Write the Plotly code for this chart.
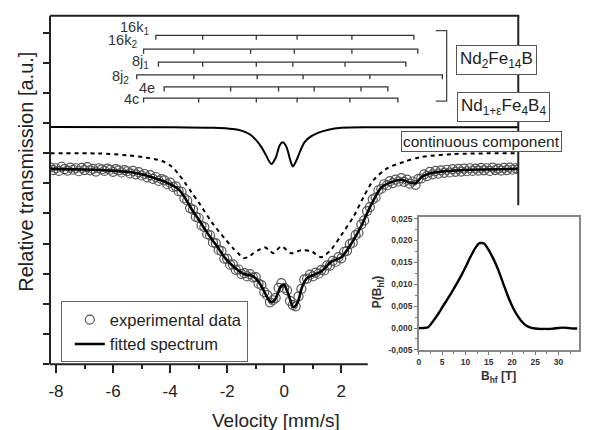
import plotly.graph_objects as go

W, H = 598, 430
FONT = "Liberation Sans, Arial, sans-serif"

# ---------------- data ----------------
VEL_START = -8.2
VEL_STEP = 0.1
exp_trans = [
    6.53, 6.44, 6.50, 6.41, 6.55, 6.47, 6.42, 6.52, 6.45, 6.50,
    6.40, 6.51, 6.44, 6.54, 6.43, 6.48, 6.39, 6.50, 6.46, 6.41,
    6.49, 6.45, 6.38, 6.47, 6.43, 6.36, 6.44, 6.40, 6.33, 6.41,
    6.30, 6.37, 6.26, 6.31, 6.20, 6.27, 6.15, 6.21, 6.08, 6.14,
    6.10, 5.97, 6.02, 5.88, 5.90, 5.74, 5.72, 5.50, 5.43, 5.18,
    5.13, 4.89, 4.85, 4.60, 4.55, 4.31, 4.27, 4.04, 4.01, 3.79,
    3.75, 3.50, 3.49, 3.30, 3.31, 3.13, 3.14, 2.99, 3.02, 2.91,
    2.99, 2.88, 2.89, 2.67, 2.62, 2.39, 2.29, 2.05, 2.12, 2.20,
    2.53, 2.69, 2.53, 2.45, 2.10, 1.96, 1.92, 2.25, 2.50, 2.81,
    2.84, 2.97, 2.91, 3.04, 3.00, 3.13, 3.11, 3.28, 3.27, 3.43,
    3.39, 3.55, 3.51, 3.73, 3.76, 3.98, 4.03, 4.28, 4.36, 4.64,
    4.77, 5.08, 5.21, 5.47, 5.53, 5.77, 5.82, 5.97, 5.93, 6.07,
    6.01, 6.12, 6.06, 6.17, 6.05, 6.12, 5.99, 6.06, 5.95, 6.15,
    6.16, 6.30, 6.24, 6.38, 6.30, 6.41, 6.32, 6.43, 6.35, 6.45,
    6.36, 6.47, 6.38, 6.48, 6.39, 6.49, 6.40, 6.50, 6.41, 6.49,
    6.42, 6.51, 6.43, 6.50, 6.41, 6.52, 6.44, 6.49, 6.42, 6.51,
    6.44, 6.52, 6.45, 6.50, 6.46]
exp_vel = [round(VEL_START + VEL_STEP * i, 2) for i in range(len(exp_trans))]

fit_vel = [-8.2, -7.0, -6.0, -5.3, -4.9, -4.6, -4.2, -3.9, -3.7, -3.5,
           -3.25, -3.0, -2.75, -2.5, -2.3, -2.1, -1.85, -1.6, -1.4, -1.15,
           -0.95, -0.75, -0.6, -0.45, -0.3, -0.12, 0.0, 0.15, 0.32, 0.47,
           0.62, 0.8, 1.0, 1.3, 1.65, 2.0, 2.35, 2.7, 3.05, 3.4,
           3.75, 4.1, 4.4, 4.6, 4.8, 5.15, 5.9, 7.0, 8.2]
fit_trans = [6.48, 6.46, 6.42, 6.36, 6.28, 6.19, 6.06, 5.92, 5.80, 5.55,
             5.15, 4.80, 4.43, 4.09, 3.84, 3.55, 3.30, 3.10, 2.98, 2.94,
             2.80, 2.50, 2.22, 2.05, 2.18, 2.58, 2.62, 2.30, 1.89, 2.05,
             2.55, 2.86, 2.95, 3.08, 3.40, 3.55, 4.00, 4.59, 5.30, 5.86,
             6.04, 6.12, 6.03, 6.00, 6.20, 6.34, 6.42, 6.46, 6.48]

dash_vel = [-8.2, -6.5, -5.5, -4.9, -4.3, -3.94, -3.7, -3.49, -3.25, -3.0,
            -2.55, -2.09, -1.8, -1.6, -1.43, -1.25, -1.08, -0.87, -0.69, -0.5,
            -0.38, -0.1, 0.24, 0.59, 0.94, 1.29, 1.64, 1.99, 2.44, 2.79,
            3.14, 3.63, 4.19, 4.78, 5.93, 8.2]
dash_trans = [7.00, 6.99, 6.93, 6.86, 6.75, 6.55, 6.30, 6.03, 5.70, 5.37,
              4.72, 4.17, 3.85, 3.66, 3.52, 3.56, 3.68, 3.80, 3.88, 3.76,
              3.68, 3.91, 3.68, 3.78, 3.75, 3.55, 3.80, 4.27, 4.92, 5.57,
              6.12, 6.51, 6.71, 6.87, 6.97, 7.00]

cont_vel = [-8.2, -4.0, -2.5, -1.8, -1.5, -1.2, -1.0, -0.8, -0.65, -0.45,
            -0.3, -0.15, -0.05, 0.08, 0.2, 0.3, 0.42, 0.55, 0.7, 0.85,
            1.2, 1.55, 2.0, 3.0, 8.2]
cont_trans = [7.87, 7.86, 7.84, 7.80, 7.75, 7.62, 7.45, 7.20, 6.95, 6.64,
              6.85, 7.28, 7.36, 7.20, 6.80, 6.56, 6.75, 7.05, 7.35, 7.50,
              7.68, 7.78, 7.84, 7.86, 7.86]

site_names = ["16k<sub>1</sub>", "16k<sub>2</sub>", "8j<sub>1</sub>",
              "8j<sub>2</sub>", "4e", "4c"]
site_lines = [
    [-4.50, -2.86, -0.98, 0.45, 2.37, 4.54],
    [-4.93, -3.17, -1.18, 0.35, 2.37, 4.68],
    [-4.41, -2.86, -0.98, 0.30, 2.13, 4.26],
    [-5.17, -3.17, -0.95, 0.66, 3.00, 5.54],
    [-4.21, -1.88, -0.20, 1.05, 2.69, 3.63],
    [-4.93, -3.00, -0.98, 0.45, 2.30, 3.98],
]

bhf = [0, 1, 2, 3, 4, 5, 6, 7, 8, 9, 10, 11, 12, 13, 14, 15, 16, 17,
       18, 19, 20, 21, 22, 23, 24, 25, 26, 27, 28, 29, 30, 31, 32, 33, 34]
p_bhf = [0.0000, 0.0000, 0.0002, 0.0015, 0.0030, 0.0047, 0.0064, 0.0081,
         0.0099, 0.0118, 0.0139, 0.0161, 0.0181, 0.0194, 0.0193, 0.0178,
         0.0158, 0.0134, 0.0105, 0.0076, 0.0051, 0.0031, 0.0016, 0.0006,
         0.0001, -0.0001, -0.0002, -0.0002, -0.0002, -0.0001, 0.0000,
         0.0001, 0.0000, -0.0001, -0.0001]

# velocity ticks visible left of the inset (the inset hides the rest)
x_ticks = [-8, -6, -4, -2, 0, 2]
x_minor = [-7, -5, -3, -1, 1]
inset_xticks = [0, 5, 10, 15, 20, 25, 30]
inset_yticks = [-0.005, 0.000, 0.005, 0.010, 0.015, 0.020, 0.025]

# ---------------- layout helpers ----------------
def px(x):
    return x / W

def py(y):
    return 1 - y / H

row_levels = [10.91, 10.45, 10.02, 9.60, 9.20, 8.83]
label_pos = [(149, 25), (137, 38.5), (149, 60), (129, 75.5), (156, 86.5), (139, 98)]
TICK_H = 0.15

fig = go.Figure()

fig.add_trace(go.Scatter(
    x=exp_vel, y=exp_trans, mode="markers", name="experimental data",
    marker=dict(symbol="circle-open", size=9, color="#555",
                line=dict(width=1.2, color="#555")),
    xaxis="x", yaxis="y"))
fig.add_trace(go.Scatter(
    x=fit_vel, y=fit_trans, mode="lines", name="fitted spectrum",
    line=dict(color="black", width=2.6, shape="spline", smoothing=0.8),
    xaxis="x", yaxis="y"))
fig.add_trace(go.Scatter(
    x=dash_vel, y=dash_trans, mode="lines", showlegend=False,
    line=dict(color="black", width=2, dash="4px,4px", shape="spline", smoothing=0.8),
    xaxis="x", yaxis="y"))
fig.add_trace(go.Scatter(
    x=cont_vel, y=cont_trans, mode="lines", showlegend=False,
    line=dict(color="black", width=2, shape="spline", smoothing=0.8),
    xaxis="x", yaxis="y"))

for lines, lev in zip(site_lines, row_levels):
    xs, ys = [], []
    xs += [lines[0], lines[0], lines[-1], lines[-1], None]
    ys += [lev - TICK_H, lev, lev, lev - TICK_H, None]
    for p in lines[1:-1]:
        xs += [p, p, None]
        ys += [lev, lev - TICK_H, None]
    fig.add_trace(go.Scatter(x=xs, y=ys, mode="lines", showlegend=False,
                             line=dict(color="#333", width=1.3),
                             xaxis="x", yaxis="y", hoverinfo="skip"))

fig.add_trace(go.Scatter(
    x=bhf, y=p_bhf, mode="lines", showlegend=False,
    line=dict(color="black", width=2.4, shape="spline", smoothing=0.6),
    xaxis="x3", yaxis="y3"))

annotations = []
for name, (lx, ly) in zip(site_names, label_pos):
    annotations.append(dict(text=name, x=px(lx), y=py(ly), xref="paper", yref="paper",
                            xanchor="right", yanchor="middle", showarrow=False,
                            font=dict(size=14.5, color="#333", family=FONT)))

box_style = dict(xref="paper", yref="paper", showarrow=False, bgcolor="white",
                 bordercolor="#555", borderwidth=1, borderpad=3,
                 xanchor="center", yanchor="middle")
annotations.append(dict(text="Nd<sub>2</sub>Fe<sub>14</sub>B", x=px(496), y=py(58),
                        font=dict(size=17, color="#222", family=FONT), **box_style))
annotations.append(dict(text="Nd<sub>1+ε</sub>Fe<sub>4</sub>B<sub>4</sub>", x=px(503.5), y=py(106),
                        font=dict(size=17, color="#222", family=FONT), **box_style))
annotations.append(dict(text="continuous component", x=px(481), y=py(141.5),
                        font=dict(size=15.5, color="#222", family=FONT),
                        **{**box_style, "borderpad": 1}))

annotations.append(dict(text="Velocity [mm/s]", x=px(275), y=py(425), xref="paper", yref="paper",
                        showarrow=False, xanchor="center", yanchor="middle",
                        font=dict(size=19, color="#222", family=FONT)))
annotations.append(dict(text="Relative transmission [a.u.]", x=px(24), y=py(172), xref="paper",
                        yref="paper", showarrow=False, textangle=-90,
                        xanchor="center", yanchor="middle",
                        font=dict(size=20, color="#222", family=FONT)))
annotations.append(dict(text="<b>B<sub>hf</sub> [T]</b>", x=px(498), y=py(381), xref="paper",
                        yref="paper", showarrow=False, xanchor="center", yanchor="middle",
                        font=dict(size=12, color="#333", family=FONT)))
annotations.append(dict(text="<b>P(B<sub>hf</sub>)</b>", x=px(377), y=py(294), xref="paper",
                        yref="paper", showarrow=False, textangle=-90,
                        xanchor="center", yanchor="middle",
                        font=dict(size=12, color="#333", family=FONT)))

frame = dict(color="#222", width=2)
shapes = [
    # bracket grouping the Nd2Fe14B sites
    dict(type="path", xref="x", yref="y",
         path="M 5.31,11.07 L 5.69,11.07 L 5.69,8.73 L 5.31,8.73",
         line=dict(color="#444", width=1.3)),
    # main frame pieces not hidden by the inset
    dict(type="line", xref="paper", yref="paper", x0=px(48), x1=px(519), y0=py(13), y1=py(13),
         line=frame),
    dict(type="line", xref="paper", yref="paper", x0=px(518), x1=px(518), y0=py(13), y1=py(206),
         line=frame),
    dict(type="line", xref="paper", yref="paper", x0=px(48), x1=px(367), y0=py(368), y1=py(368),
         line=frame),
]

fig.update_layout(
    width=W, height=H, autosize=False,
    margin=dict(l=0, r=0, t=0, b=0),
    paper_bgcolor="white", plot_bgcolor="white",
    font=dict(family=FONT, color="#222"),
    showlegend=True,
    legend=dict(x=px(59), y=py(304), xanchor="left", yanchor="top",
                bordercolor="#666", borderwidth=1, bgcolor="white",
                font=dict(size=16.5, color="#222", family=FONT),
                indentation=8, tracegroupgap=0),
    annotations=annotations,
    shapes=shapes,
    xaxis=dict(domain=[px(49), px(518)], range=[-8.18, 8.2], anchor="y",
               showgrid=False, zeroline=False, showline=False,
               ticks="outside", ticklen=8, tickwidth=1.5, tickcolor="#222",
               tickvals=x_ticks, ticktext=[str(t) for t in x_ticks],
               ticklabelstandoff=3,
               tickfont=dict(size=17, color="#222", family=FONT),
               minor=dict(tickvals=x_minor, ticks="outside", ticklen=4,
                          tickwidth=1.5, tickcolor="#222")),
    yaxis=dict(domain=[py(368), py(13)], range=[0, 11.56], anchor="x",
               showgrid=False, zeroline=False,
               showline=True, linecolor="#222", linewidth=2, mirror=False,
               ticks="outside", ticklen=6, tickwidth=1.5, tickcolor="#222",
               dtick=1, tick0=0, showticklabels=False),
    xaxis2=dict(domain=[px(367), 1.0], range=[0, 1], anchor="y2",
                showgrid=False, zeroline=False, showticklabels=False, ticks="",
                showline=True, linecolor="#bbb", linewidth=1.5, mirror=True,
                fixedrange=True),
    yaxis2=dict(domain=[py(396), py(206)], range=[0, 1], anchor="x2",
                showgrid=False, zeroline=False, showticklabels=False, ticks="",
                showline=True, linecolor="#bbb", linewidth=1.5, mirror=False,
                fixedrange=True),
    xaxis3=dict(domain=[px(418.3), px(579)], range=[0, 34.4], anchor="y3",
                showgrid=False, zeroline=False,
                showline=True, linecolor="#888", linewidth=1.5, mirror=True,
                ticks="outside", ticklen=3, tickwidth=1, tickcolor="#777",
                tickvals=inset_xticks, ticktext=[str(t) for t in inset_xticks],
                tickfont=dict(size=8.5, color="#333", family=FONT, weight="bold"),
                minor=dict(dtick=2.5, tick0=0, ticks="outside", ticklen=2,
                           tickcolor="#777")),
    yaxis3=dict(domain=[py(353.5), py(218)], range=[-0.005, 0.02538], anchor="x3",
                showgrid=False, zeroline=False,
                showline=True, linecolor="#888", linewidth=1.5, mirror=True,
                ticks="outside", ticklen=3, tickwidth=1, tickcolor="#777",
                tickvals=inset_yticks,
                ticktext=[("%.3f" % t).replace(".", ",") for t in inset_yticks],
                tickfont=dict(size=8.5, color="#333", family=FONT, weight="bold"),
                minor=dict(dtick=0.0025, tick0=0, ticks="outside", ticklen=2,
                           tickcolor="#777")),
)

fig.write_html("out.html")
